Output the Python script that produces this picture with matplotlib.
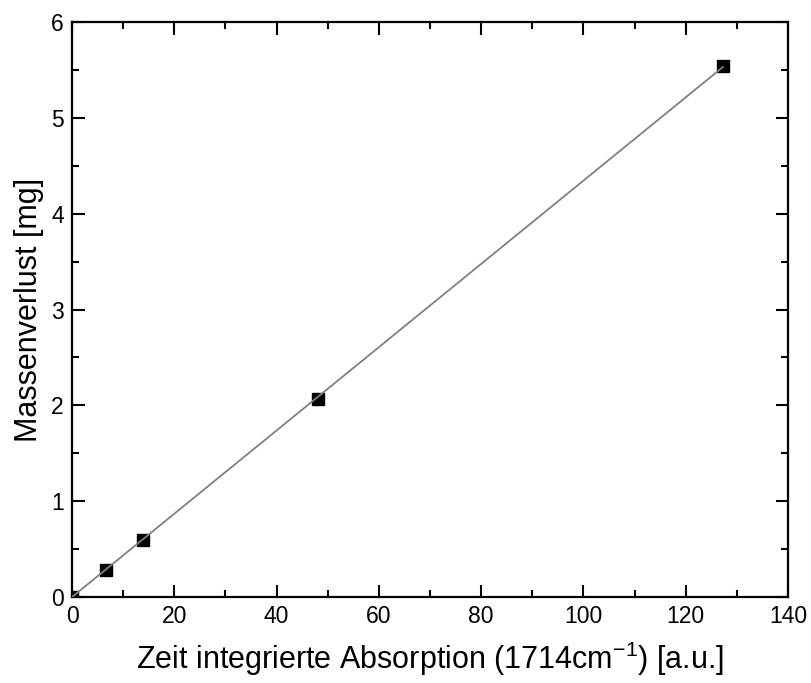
import numpy as np
import matplotlib.pyplot as plt

plt.rcParams['font.family'] = ['Liberation Sans', 'DejaVu Sans']
plt.rcParams['mathtext.fontset'] = 'custom'
plt.rcParams['mathtext.rm'] = 'Liberation Sans'

# measured points
absorption = np.array([0.0, 6.6, 13.9, 48.1, 127.3])
massenverlust = np.array([0.0, 0.28, 0.59, 2.07, 5.54])

# linear fit through origin
slope = np.sum(absorption * massenverlust) / np.sum(absorption ** 2)
fit_x = np.array([0.0, absorption.max()])
fit_y = slope * fit_x

fig = plt.figure(figsize=(8.11, 6.83), dpi=100)
ax = fig.add_axes([0.0888, 0.1259, 0.8828, 0.8419])

ax.plot(absorption, massenverlust, 's', color='black', markersize=8, zorder=2, clip_on=True)
ax.plot(fit_x, fit_y, '-', color='#808080', linewidth=1.3, zorder=3)

ax.set_xlim(0, 140)
ax.set_ylim(0, 6)
ax.set_xticks(np.arange(0, 141, 20))
ax.set_xticks(np.arange(10, 140, 20), minor=True)
ax.set_yticks(np.arange(0, 7, 1))
ax.set_yticks(np.arange(0.5, 6, 1), minor=True)

ax.tick_params(which='both', direction='in', top=True, right=True, width=1.5, labelsize=16.5)
ax.tick_params(which='major', length=9)
ax.tick_params(which='minor', length=5)
ax.tick_params(axis='x', pad=6)
ax.tick_params(axis='y', pad=6)
for s in ax.spines.values():
    s.set_linewidth(1.6)

ax.set_xlabel('Zeit integrierte Absorption (1714cm$^{\\mathregular{-1}}$) [a.u.]', fontsize=22, labelpad=8)
ax.set_ylabel('Massenverlust [mg]', fontsize=22, labelpad=5)

fig.savefig('out.png', dpi=100)
